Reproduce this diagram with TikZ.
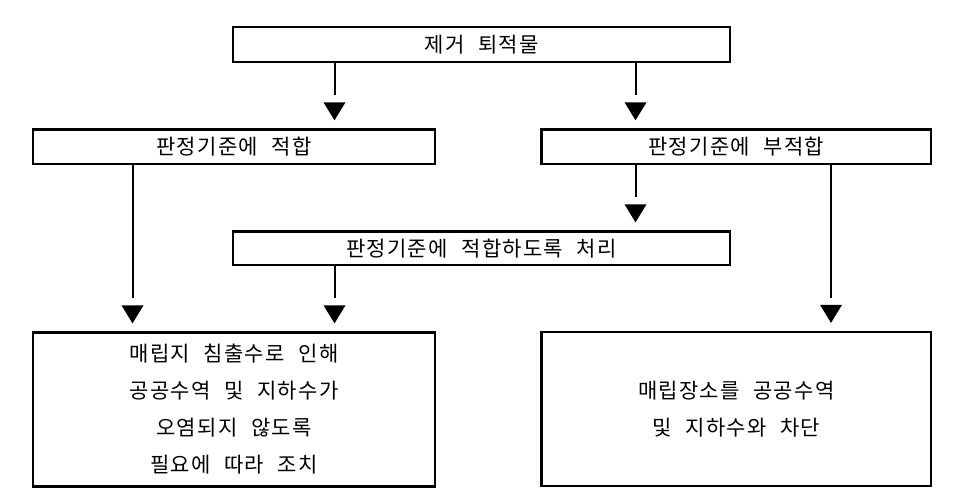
\documentclass[tikz,border=0pt]{standalone}
\usepackage{fontspec}
\setmainfont{Noto Sans CJK KR}[LetterSpace=6,WordSpace=2.3]
\usetikzlibrary{calc}
\begin{document}
\begin{tikzpicture}[x=1pt,y=-1pt,
  box/.style={draw, line width=2.3pt, inner sep=0pt, align=center, font=\fontsize{21}{37}\selectfont},
  conn/.style={line width=2pt}]
\useasboundingbox (0,0) rectangle (971,498);
\fill[white] (0,0) rectangle (971,498);
\node[box, minimum width=497, minimum height=35] (top) at (481.5,44.5) {제거 퇴적물};
\node[box, minimum width=402, minimum height=34.5] (lm) at (234,146.75) {판정기준에 적합};
\node[box, minimum width=389.5, minimum height=34.5] (rm) at (736.25,146.75) {판정기준에 부적합};
\node[box, minimum width=497, minimum height=33.5] (mid) at (481.5,248.25) {판정기준에 적합하도록 처리};
\node[box, minimum width=402, minimum height=154] (bl) at (234,409.5) {매립지 침출수로 인해\\공공수역 및 지하수가\\오염되지 않도록\\필요에 따라 조치};
\node[box, minimum width=389.5, minimum height=154] (br) at (736.25,409) {매립장소를 공공수역\\및 지하수와 차단};
\newcommand\flowarrow[3]{%
  \draw[conn] (#1.south -| #3,0) -- ($(#2.north -| #3,0)+(0,-33)$);
  \fill ($(#2.north -| #3,0)+(-11,-26)$) -- ++(22,0) -- ++(-11,18) -- cycle;}
\flowarrow{top}{lm}{334.5}
\flowarrow{top}{rm}{635.5}
\flowarrow{rm}{mid}{635.5}
\flowarrow{lm}{bl}{132.5}
\flowarrow{mid}{bl}{334.5}
\flowarrow{rm}{br}{831}
\end{tikzpicture}
\end{document}
